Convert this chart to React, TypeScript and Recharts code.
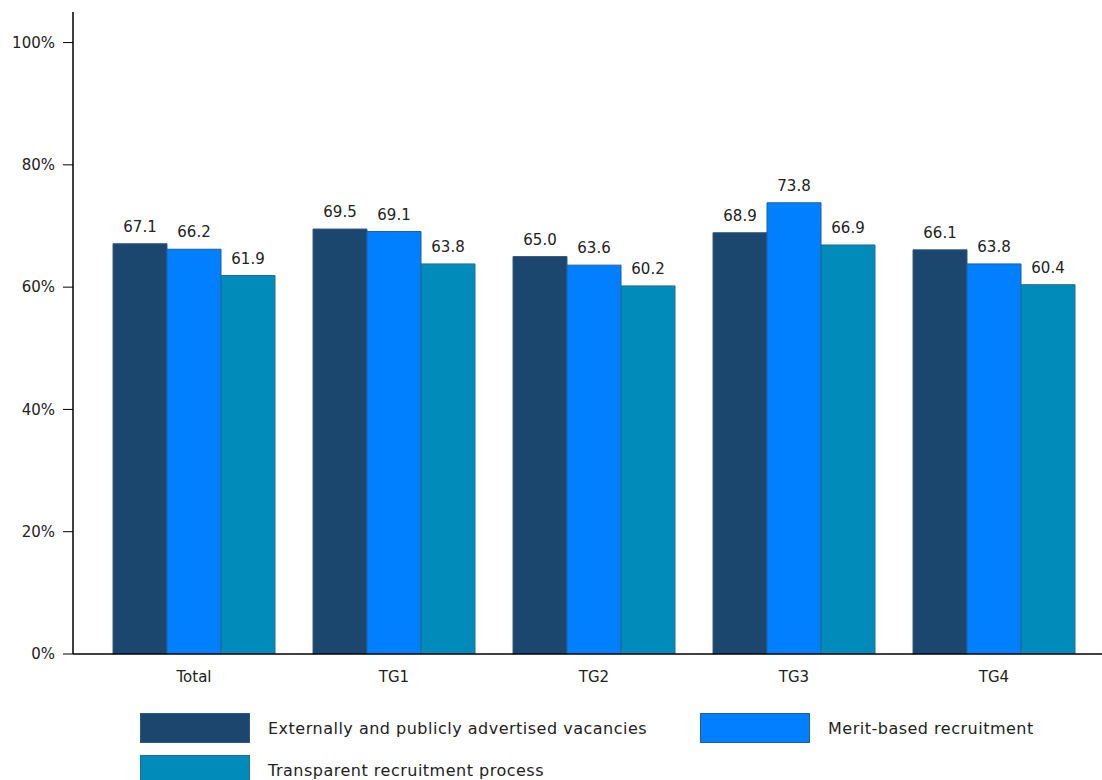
import { BarChart, Bar, XAxis, YAxis, LabelList } from 'recharts';

const categories = ['Total', 'TG1', 'TG2', 'TG3', 'TG4'];
const externallyAdvertised = [67.1, 69.5, 65.0, 68.9, 66.1];
const meritBased = [66.2, 69.1, 63.6, 73.8, 63.8];
const transparentProcess = [61.9, 63.8, 60.2, 66.9, 60.4];
const yTicks = [0, 20, 40, 60, 80, 100];

const series = [
  { key: 'ext', name: 'Externally and publicly advertised vacancies', fill: '#1B466E', stroke: '#2F5A80' },
  { key: 'merit', name: 'Merit-based recruitment', fill: '#0080FF', stroke: '#1F5F9E' },
  { key: 'transp', name: 'Transparent recruitment process', fill: '#008BBB', stroke: '#216E90' },
];

const data = categories.map((c, i) => ({
  cat: c,
  ext: externallyAdvertised[i],
  merit: meritBased[i],
  transp: transparentProcess[i],
}));

const font = '"DejaVu Sans", sans-serif';

export default function App() {
  return (
    <div style={{ position: 'absolute', left: 0, top: 0, width: 1102, height: 780, fontFamily: font, background: '#fff' }}>
      <BarChart
        width={1102}
        height={700}
        data={data}
        margin={{ top: 12, right: 0, bottom: 0, left: 0 }}
        barCategoryGap={19}
        barGap={0}
      >
        <YAxis
          domain={[0, 105]}
          ticks={yTicks}
          tickFormatter={(v) => `${v}%`}
          width={73}
          tickSize={10}
          tickMargin={8}
          axisLine={{ stroke: '#000', strokeWidth: 1.5 }}
          tickLine={{ stroke: '#000' }}
          tick={{ fontSize: 15, fill: '#222', fontFamily: font }}
          allowDataOverflow
        />
        <XAxis
          dataKey="cat"
          height={46}
          padding={{ left: 21, right: 8 }}
          axisLine={{ stroke: '#000', strokeWidth: 1.5 }}
          tickLine={false}
          tickSize={6}
          tickMargin={11}
          tick={{ fontSize: 15, fill: '#222', fontFamily: font }}
        />
        {series.map((s) => (
          <Bar key={s.key} dataKey={s.key} name={s.name} fill={s.fill} stroke={s.stroke} strokeWidth={1} isAnimationActive={false}>
            <LabelList
              dataKey={s.key}
              position="top"
              offset={12}
              formatter={(v: any) => Number(v).toFixed(1)}
              style={{ fontSize: 15, fill: '#222', fontFamily: font }}
            />
          </Bar>
        ))}
      </BarChart>
      {series.map((s, i) => {
        const left = i === 1 ? 700 : 140;
        const top = i === 2 ? 755 : 713;
        return (
          <div key={s.key} style={{ position: 'absolute', left, top, display: 'flex', alignItems: 'center' }}>
            <div style={{ width: 110, height: 30, background: s.fill, border: `1px solid ${s.stroke}`, boxSizing: 'border-box' }} />
            <span style={{ marginLeft: 18, fontSize: 16, letterSpacing: 0.5, color: '#222' }}>{s.name}</span>
          </div>
        );
      })}
    </div>
  );
}
